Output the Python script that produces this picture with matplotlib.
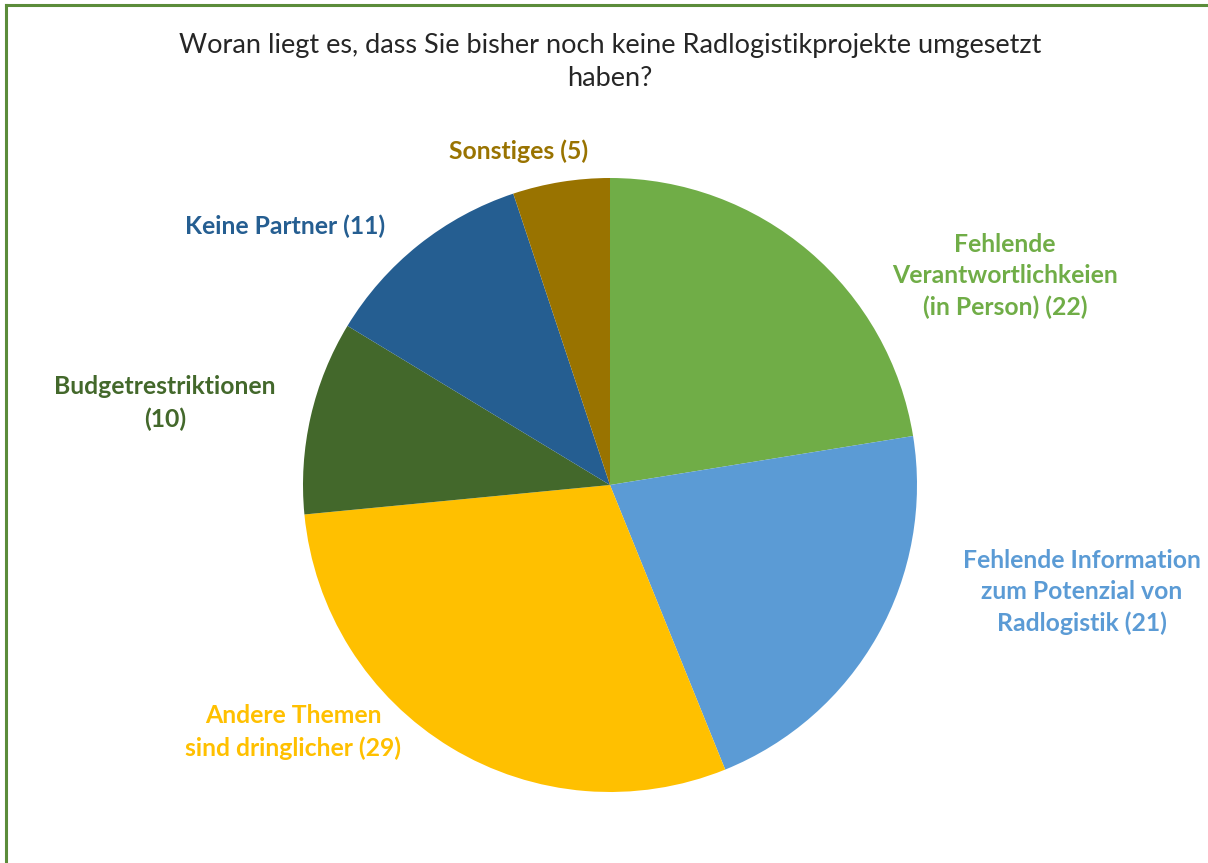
import matplotlib.pyplot as plt
from matplotlib.lines import Line2D

title = "Woran liegt es, dass Sie bisher noch keine Radlogistikprojekte umgesetzt\nhaben?"
categories = ["Fehlende\nVerantwortlichkeien\n(in Person)",
              "Fehlende Information\nzum Potenzial von\nRadlogistik",
              "Andere Themen\nsind dringlicher",
              "Budgetrestriktionen\n",
              "Keine Partner",
              "Sonstiges"]
values = [22, 21, 29, 10, 11, 5]
colors = ["#70AD47", "#5B9BD5", "#FFC000", "#43682B", "#255E91", "#997300"]

# label centres in pixels (x, y from top)
label_pos = [(1005, 276), (1082, 592), (293, 732), (165, 403), (285, 226), (519, 151)]

W, H = 1208, 863
fig = plt.figure(figsize=(W / 100, H / 100), dpi=100)
plt.rcParams['font.family'] = ['Lato', 'DejaVu Sans']

cx, cy, r = 610, 485, 307
ax = fig.add_axes([(cx - r) / W, (H - cy - r) / H, 2 * r / W, 2 * r / H])
ax.pie(values, colors=colors, startangle=90, counterclock=False, radius=1,
       wedgeprops=dict(linewidth=0))
ax.set_xlim(-1, 1)
ax.set_ylim(-1, 1)
ax.set_aspect('equal')
ax.axis('off')

fig.text(610 / W, 1 - 62 / H, title, ha='center', va='center', fontsize=19.5,
         color='#262626', linespacing=1.45)

for cat, v, c, (x, y) in zip(categories, values, colors, label_pos):
    if cat.endswith("\n"):
        txt = cat + f"({v})"
    else:
        txt = f"{cat} ({v})"
    fig.text(x / W, 1 - y / H, txt, ha='center', va='center', fontsize=17.8,
             fontweight='bold', color=c, linespacing=1.45)

# green frame (top and left edges)
fig.add_artist(Line2D([6 / W, 1], [1 - 5 / H, 1 - 5 / H], color='#5B8C3A', lw=2.2,
                      transform=fig.transFigure))
fig.add_artist(Line2D([6 / W, 6 / W], [0, 1 - 5 / H], color='#5B8C3A', lw=2.2,
                      transform=fig.transFigure))

fig.savefig("out.png", dpi=100)
